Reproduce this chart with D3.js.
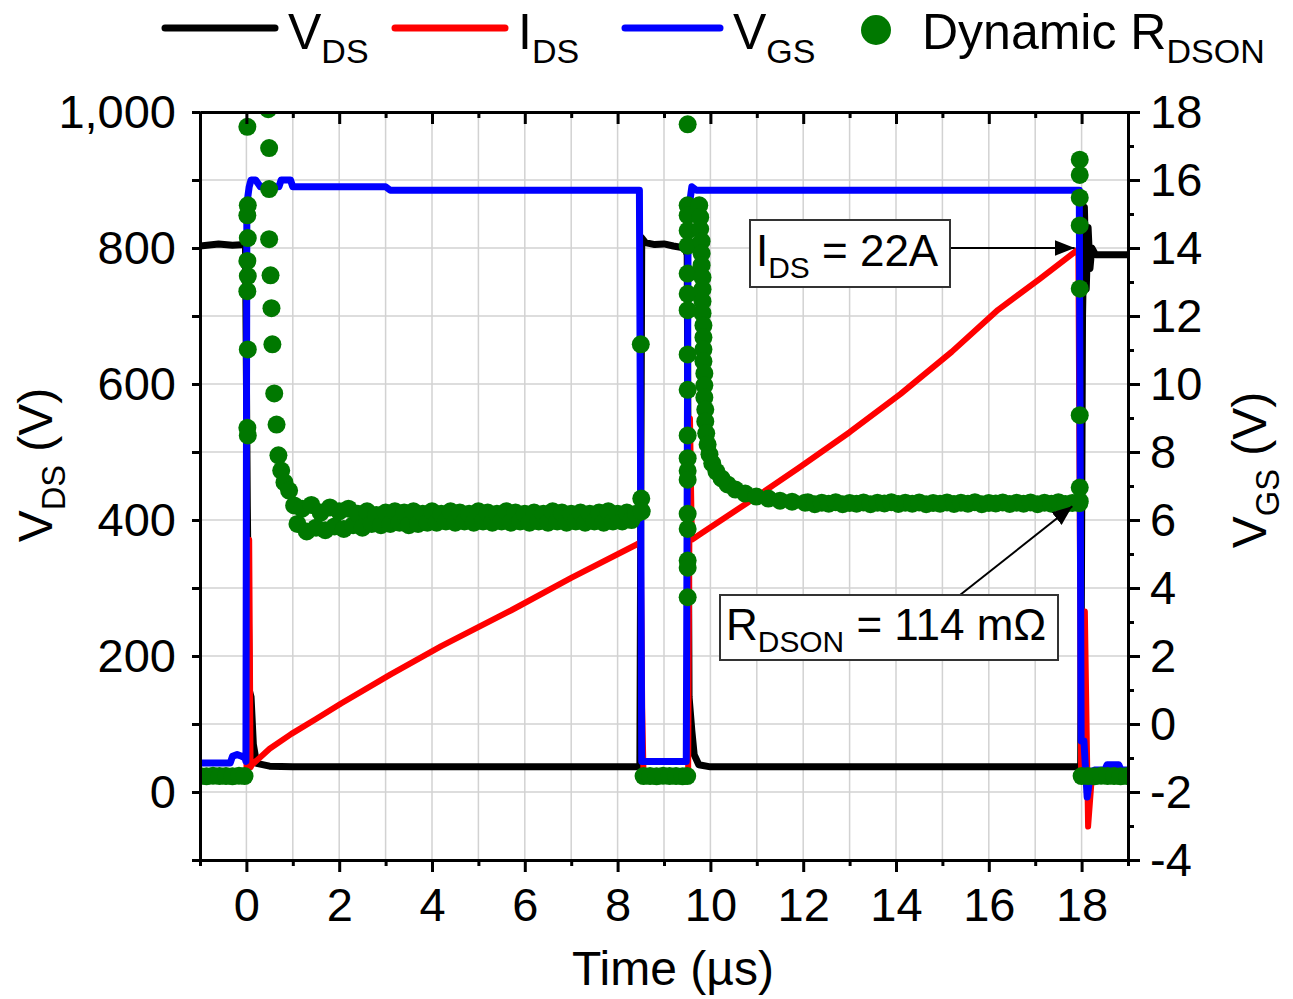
<!DOCTYPE html>
<html>
<head>
<meta charset="utf-8">
<script src="https://cdn.jsdelivr.net/npm/d3@7"></script>
<style>
body { margin: 0; background: #fff; }
svg { display: block; font-family: "Liberation Sans", Arial, sans-serif; }
</style>
</head>
<body>
<svg id="chart" width="1293" height="999"></svg>
<script>
// V_DS (V), left axis
var tVds = [-1.0, -0.6, -0.3, -0.02, 0.02, 0.06, 0.1, 0.15, 0.22, 0.5, 1.0, 8.48, 8.52, 8.6, 8.8, 9.0, 9.2, 9.45, 9.5,
            9.54, 9.6, 9.65, 9.75, 10.0, 17.98, 18.02, 18.06, 18.1, 18.14, 18.18, 18.22, 18.3, 19.0];
var vds  = [803, 806, 804, 805, 420, 150, 140, 70, 42, 38, 37, 37, 815, 808, 805, 806, 803, 800, 790,
            140, 90, 55, 40, 37, 37, 700, 860, 740, 830, 770, 800, 790, 790];

// I_DS (A), drawn against the left axis (22 A sits on 800)
var tIds = [-1.0, 0.0, 0.06, 0.09, 0.12, 0.5, 0.97, 1.5, 2.04, 3.1, 4.2, 5.7, 7.0, 8.4, 8.5, 8.53, 8.56,
            9.52, 9.56, 9.6, 9.8, 10.8, 11.9, 13.0, 14.1, 15.2, 16.2, 17.1, 17.93, 17.99, 18.07, 18.14, 18.22, 19.0];
var ids  = [0.6, 0.6, 10.2, 1.0, 1.1, 1.75, 2.35, 2.95, 3.58, 4.75, 5.9, 7.34, 8.66, 10.0, 10.1, 3.4, 0.6,
            0.6, 15.1, 10.2, 10.45, 11.7, 13.1, 14.55, 16.1, 17.8, 19.5, 20.75, 21.95, 0.5, 7.3, -1.4, 0.6, 0.6];

// V_GS (V), right axis
var tVgs = [-1.0, -0.35, -0.3, -0.2, -0.1, -0.03, -0.01, 0.01, 0.06, 0.1, 0.2, 0.3, 0.7, 0.75, 0.95, 1.0, 3.0, 3.1,
            8.47, 8.52, 9.48, 9.52, 9.6, 9.7, 17.95, 17.99, 18.05, 18.12, 18.2, 18.3, 18.5, 18.55, 18.8, 18.85, 19.0];
var vgs  = [-1.15, -1.15, -0.95, -0.9, -0.95, -1.0, -1.1, 15.3, 15.8, 16.0, 16.0, 15.8, 15.8, 16.0, 16.0, 15.8, 15.8, 15.7,
            15.7, -1.1, -1.1, 15.0, 15.8, 15.7, 15.7, -0.5, -0.5, -2.15, -1.4, -1.35, -1.35, -1.2, -1.2, -1.35, -1.35];

// Dynamic R_DSON (mOhm), scatter
var tRds = [
  // off, before first pulse
  -1.0, -0.86, -0.72, -0.58, -0.44, -0.3, -0.16, -0.04,
  // turn-on column
  0.02, 0.03, 0.02, 0.03, 0.02, 0.03, 0.02, 0.03, 0.02, 0.03,
  // settling column
  0.47, 0.49, 0.49, 0.49, 0.52, 0.54, 0.56, 0.6, 0.65, 0.69, 0.75, 0.82, 0.92, 1.03,
  // first plateau
  1.1, 1.2, 1.3, 1.4, 1.5, 1.6, 1.7, 1.8, 1.9, 2.0,
  2.1, 2.2, 2.3, 2.4, 2.5, 2.6, 2.7, 2.8, 2.9, 3.0,
  3.1, 3.2, 3.3, 3.4, 3.5, 3.6, 3.7, 3.8, 3.9, 4.0,
  4.1, 4.2, 4.3, 4.4, 4.5, 4.6, 4.7, 4.8, 4.9, 5.0,
  5.1, 5.2, 5.3, 5.4, 5.5, 5.6, 5.7, 5.8, 5.9, 6.0,
  6.1, 6.2, 6.3, 6.4, 6.5, 6.6, 6.7, 6.8, 6.9, 7.0,
  7.1, 7.2, 7.3, 7.4, 7.5, 7.6, 7.7, 7.8, 7.9, 8.0,
  8.1, 8.2, 8.3, 8.4,
  // turn-off
  8.5, 8.51, 8.52,
  // off gap
  8.56, 8.7, 8.84, 8.98, 9.12, 9.26, 9.4, 9.5,
  // second turn-on column
  9.51, 9.51, 9.51, 9.51, 9.51, 9.51, 9.51, 9.51, 9.51, 9.51, 9.51, 9.51, 9.51, 9.51, 9.51, 9.51, 9.51, 9.51, 9.51,
  // decay
  9.76, 9.78, 9.78, 9.81, 9.81, 9.81, 9.83, 9.83, 9.83, 9.83, 9.85, 9.85, 9.85, 9.85, 9.87, 9.87, 9.87, 9.89, 9.89,
  9.91, 9.94, 9.98, 10.04, 10.13, 10.24, 10.37, 10.54, 10.75, 10.99, 11.25, 11.5, 11.76, 12.04,
  // second plateau
  12.1, 12.25, 12.4, 12.55, 12.7, 12.85, 13.0, 13.15, 13.3, 13.45,
  13.6, 13.75, 13.9, 14.05, 14.2, 14.35, 14.5, 14.65, 14.8, 14.95,
  15.1, 15.25, 15.4, 15.55, 15.7, 15.85, 16.0, 16.15, 16.3, 16.45,
  16.6, 16.75, 16.9, 17.05, 17.2, 17.35, 17.5, 17.65, 17.8, 17.95,
  // turn-off column
  17.96, 17.96, 17.96, 17.96, 17.96, 17.96, 17.96, 17.96,
  // off, after second pulse
  18.0, 18.14, 18.28, 18.42, 18.56, 18.7, 18.84, 18.98
];
var rds = [
  6.3, 6.2, 6.4, 6.3, 6.3, 6.2, 6.4, 6.3,
  263, 232, 228, 219, 210, 204, 198, 175, 144, 141,
  270, 254.6, 238.4, 218.6, 204.3, 191.3, 177, 157.6, 145.3, 133.1, 127.1, 122.4, 119.2, 113.3,
  106, 112, 103, 113.5, 104.5, 110.5, 103.5, 112.5, 105, 111,
  104, 112, 105.5, 110, 104.5, 111, 106, 109.5, 105.5, 110.5,
  106, 111, 106.5, 110.5, 105.5, 111, 106, 110, 106.5, 111,
  106.5, 110, 107, 111, 106.5, 110.5, 107, 110, 106.5, 111,
  107, 110.5, 106.5, 110, 107, 111, 106.5, 110.5, 107, 110,
  106.5, 110.5, 107, 110, 106.5, 111, 107, 110.5, 106.5, 110,
  107, 110.5, 106.5, 110, 107, 110.5, 106.5, 111, 107, 110,
  107, 110.5, 107.5, 110,
  177, 116, 111,
  6.3, 6.3, 6.2, 6.4, 6.3, 6.3, 6.2, 6.3,
  264, 232, 228, 222, 216, 205, 197, 190.5, 173, 159, 141, 132, 127, 123.5, 110, 104, 91.5, 88.7, 77,
  232, 227.3, 222.6, 217.8, 213, 208.3, 203.5, 198.8, 194, 189.3, 184.5, 179.8, 175, 170.3, 165.5, 160.8, 156, 151.2, 146.5,
  141.8, 137.4, 133.5, 129.9, 126.7, 124, 121.6, 119.6, 118, 116.8, 116, 115.2, 114.8, 114.4,
  114.6, 113.8, 114.4, 114, 114.6, 113.8, 114.3, 114, 114.5, 113.8,
  114.4, 114.1, 114.6, 113.9, 114.4, 114, 114.5, 113.8, 114.3, 114,
  114.5, 113.9, 114.4, 114, 114.6, 113.8, 114.3, 114.1, 114.5, 113.9,
  114.4, 114, 114.5, 113.8, 114.4, 114, 114.6, 113.9, 114.3, 114.2,
  250, 244, 235, 224, 199, 149, 120.4, 115,
  6.3, 6.3, 6.2, 6.4, 6.3, 6.3, 6.2, 6.3
];

// axes
var xTicks = [0, 2, 4, 6, 8, 10, 12, 14, 16, 18];
var xMinor = [-1, 1, 3, 5, 7, 9, 11, 13, 15, 17, 19];
var leftTicks = [0, 200, 400, 600, 800, 1000];
var leftMinor = [-100, 100, 300, 500, 700, 900];
var rightTicks = [-4, -2, 0, 2, 4, 6, 8, 10, 12, 14, 16, 18];
var rightMinor = [-3, -1, 1, 3, 5, 7, 9, 11, 13, 15, 17];

var svg = d3.select('#chart');
var x = d3.scaleLinear().domain([-1, 19]).range([200, 1128]);
var yL = d3.scaleLinear().domain([-100, 1000]).range([860, 112]);
var yR = d3.scaleLinear().domain([-4, 18]).range([860, 112]);
var yI = d3.scaleLinear().domain([-100 * 22 / 800, 1000 * 22 / 800]).range([860, 112]);
var yRds = d3.scaleLinear().domain([-100 * 114 / 424, 1000 * 114 / 424]).range([860, 112]);

svg.append('defs').append('clipPath').attr('id', 'plotclip')
   .append('rect').attr('x', 200).attr('y', 112).attr('width', 928).attr('height', 748);

// grid
var grid = svg.append('g').attr('stroke', '#d2d2d2').attr('stroke-width', 1.5);
d3.range(0, 19).forEach(function(t) {
    grid.append('line').attr('x1', x(t)).attr('x2', x(t)).attr('y1', 112).attr('y2', 860);
});
d3.range(0, 1000, 100).forEach(function(v) {
    grid.append('line').attr('x1', 200).attr('x2', 1128).attr('y1', yL(v)).attr('y2', yL(v));
});

// traces
var plot = svg.append('g').attr('clip-path', 'url(#plotclip)');
var line = function(ys) {
    return d3.line().x(function(d) { return x(d[0]); }).y(function(d) { return ys(d[1]); });
};
plot.append('path').datum(d3.zip(tVds, vds)).attr('d', line(yL))
    .attr('fill', 'none').attr('stroke', '#000').attr('stroke-width', 7).attr('stroke-linejoin', 'round');
plot.append('path').datum(d3.zip(tIds, ids)).attr('d', line(yI))
    .attr('fill', 'none').attr('stroke', '#ff0000').attr('stroke-width', 6).attr('stroke-linejoin', 'round');
plot.append('path').datum(d3.zip(tVgs, vgs)).attr('d', line(yR))
    .attr('fill', 'none').attr('stroke', '#0000ff').attr('stroke-width', 7).attr('stroke-linejoin', 'round');
plot.selectAll('circle.rds').data(d3.zip(tRds, rds)).enter().append('circle')
    .attr('class', 'rds')
    .attr('cx', function(d) { return x(d[0]); })
    .attr('cy', function(d) { return yRds(d[1]); })
    .attr('r', 9)
    .attr('fill', '#007800');

// axes
var fmt = d3.format(',');
function styleAxis(g) {
    g.select('.domain').attr('stroke', '#000').attr('stroke-width', 3);
    g.selectAll('.tick line').attr('stroke', '#000').attr('stroke-width', 3);
    g.selectAll('.tick text').attr('fill', '#000').attr('font-size', 47)
        .attr('font-family', '"Liberation Sans", Arial, sans-serif');
}
var plain = function(d) { return String(d); };
svg.append('g').attr('transform', 'translate(0,860)')
   .call(d3.axisBottom(x).tickValues(xMinor).tickSize(6).tickSizeOuter(0).tickFormat('')).call(styleAxis);
svg.append('g').attr('transform', 'translate(0,860)')
   .call(d3.axisBottom(x).tickValues(xTicks).tickSize(12).tickSizeOuter(0).tickPadding(16).tickFormat(plain)).call(styleAxis);
svg.append('g').attr('transform', 'translate(0,112)')
   .call(d3.axisTop(x).tickValues(xMinor).tickSize(-6).tickSizeOuter(0).tickFormat('')).call(styleAxis);
svg.append('g').attr('transform', 'translate(0,112)')
   .call(d3.axisTop(x).tickValues(xTicks).tickSize(-12).tickSizeOuter(0).tickFormat('')).call(styleAxis);
svg.append('g').attr('transform', 'translate(200,0)')
   .call(d3.axisLeft(yL).tickValues(leftMinor).tickSize(8).tickSizeOuter(0).tickFormat('')).call(styleAxis);
svg.append('g').attr('transform', 'translate(200,0)')
   .call(d3.axisLeft(yL).tickValues(leftTicks).tickSize(8).tickSizeOuter(0).tickPadding(16).tickFormat(fmt)).call(styleAxis);
svg.append('g').attr('transform', 'translate(1128,0)')
   .call(d3.axisRight(yR).tickValues(rightMinor).tickSize(6).tickSizeOuter(0).tickFormat('')).call(styleAxis);
svg.append('g').attr('transform', 'translate(1128,0)')
   .call(d3.axisRight(yR).tickValues(rightTicks).tickSize(12).tickSizeOuter(0).tickPadding(10).tickFormat(plain)).call(styleAxis);

// text with subscripts
function subText(parent, xp, yp, parts, size, anchor) {
    var t = parent.append('text').attr('x', xp).attr('y', yp).attr('font-size', size)
        .attr('fill', '#000').attr('text-anchor', anchor || 'start');
    var shift = 0;
    parts.forEach(function(p) {
        var sub = p[1];
        var target = sub ? size * 0.27 : 0;
        t.append('tspan').attr('dy', target - shift).attr('font-size', sub ? size * 0.68 : size).text(p[0]);
        shift = target;
    });
    return t;
}

svg.append('text').attr('x', 673).attr('y', 985).attr('text-anchor', 'middle')
   .attr('font-size', 48).text('Time (\u00b5s)');
subText(svg.append('g').attr('transform', 'translate(52,465) rotate(-90)'), 0, 0,
        [['V', false], ['DS', true], [' (V)', false]], 48, 'middle');
subText(svg.append('g').attr('transform', 'translate(1266,470) rotate(-90)'), 0, 0,
        [['V', false], ['GS', true], [' (V)', false]], 48, 'middle');

// legend
var legend = svg.append('g');
var legendItems = [
    { x1: 165, x2: 275, color: '#000', tx: 288, label: [['V', false], ['DS', true]] },
    { x1: 395, x2: 505, color: '#ff0000', tx: 518, label: [['I', false], ['DS', true]] },
    { x1: 625, x2: 720, color: '#0000ff', tx: 733, label: [['V', false], ['GS', true]] }
];
legendItems.forEach(function(it) {
    legend.append('line').attr('x1', it.x1).attr('x2', it.x2).attr('y1', 28).attr('y2', 28)
        .attr('stroke', it.color).attr('stroke-width', 7).attr('stroke-linecap', 'round');
    subText(legend, it.tx, 49, it.label, 50);
});
legend.append('circle').attr('cx', 876).attr('cy', 30).attr('r', 15).attr('fill', '#007800');
subText(legend, 922, 49, [['Dynamic R', false], ['DSON', true]], 50);

// annotations
var defs = svg.select('defs');
defs.append('marker').attr('id', 'arrow').attr('viewBox', '0 0 20 16').attr('refX', 20).attr('refY', 8)
    .attr('markerWidth', 20).attr('markerHeight', 16).attr('markerUnits', 'userSpaceOnUse').attr('orient', 'auto')
    .append('path').attr('d', 'M0,0 L20,8 L0,16 Z').attr('fill', '#000');

var ann = svg.append('g');
ann.append('line').attr('x1', 951).attr('y1', yI(22)).attr('x2', x(17.85)).attr('y2', yI(22))
   .attr('stroke', '#000').attr('stroke-width', 2).attr('marker-end', 'url(#arrow)');
ann.append('rect').attr('x', 750).attr('y', 220).attr('width', 200).attr('height', 67)
   .attr('fill', '#fff').attr('stroke', '#333').attr('stroke-width', 2);
subText(ann, 756, 266, [['I', false], ['DS', true], [' = 22A', false]], 44);

ann.append('line').attr('x1', 960).attr('y1', 595).attr('x2', x(17.8)).attr('y2', yRds(113))
   .attr('stroke', '#000').attr('stroke-width', 2).attr('marker-end', 'url(#arrow)');
ann.append('rect').attr('x', 720).attr('y', 595).attr('width', 338).attr('height', 65)
   .attr('fill', '#fff').attr('stroke', '#333').attr('stroke-width', 2);
subText(ann, 726, 640, [['R', false], ['DSON', true], [' = 114 m\u03a9', false]], 44);
</script>
</body>
</html>
